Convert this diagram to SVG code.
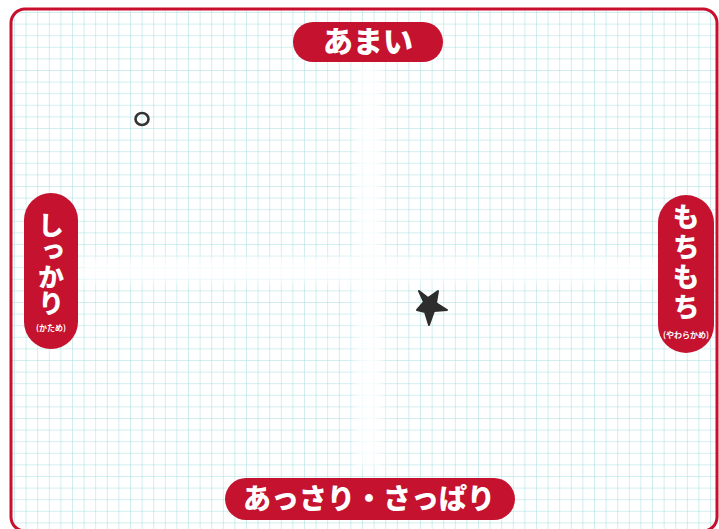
<svg xmlns="http://www.w3.org/2000/svg" width="719" height="529" viewBox="0 0 719 529">
<style>
.pill{fill:#c4122f}
.t{font-family:"Noto Sans CJK JP","Noto Sans",sans-serif;font-weight:900;fill:#fff;text-anchor:middle}
.v{font-family:"Noto Sans CJK JP","Noto Sans",sans-serif;font-weight:900;fill:#fff;writing-mode:vertical-rl;text-anchor:start}
.s{font-family:"Noto Sans CJK JP","Noto Sans",sans-serif;font-weight:700;fill:#fff;text-anchor:middle;font-size:8px}
</style>
<defs>
<pattern id="grid" x="14" y="12" width="11.6" height="11.6" patternUnits="userSpaceOnUse">
<path d="M0 0V11.6M0 0H11.6" fill="none" stroke="#a6dde2" stroke-width="1"/>
</pattern>
<filter id="blur" x="-20%" y="-20%" width="140%" height="140%"><feGaussianBlur stdDeviation="5"/></filter>
<clipPath id="inner"><rect x="11" y="9" width="706" height="520" rx="14"/></clipPath>
</defs>
<rect width="719" height="529" fill="#fff"/>
<g clip-path="url(#inner)">
<rect x="11" y="9" width="708" height="520" fill="url(#grid)"/>
<g filter="url(#blur)" fill="#fff" opacity="0.8">
<rect x="356" y="62" width="26" height="406"/>
<rect x="80" y="258" width="590" height="24"/>
</g>
</g>
<rect x="11" y="9" width="706" height="522" rx="14" fill="none" stroke="#c8102e" stroke-width="3"/>
<g id="top">
<rect class="pill" x="293" y="22" width="150" height="40" rx="20"/>
<text class="t" x="368" y="52" font-size="30">あまい</text>
</g>
<g id="bottom">
<rect class="pill" x="225" y="478" width="290" height="42" rx="21"/>
<text class="t" x="369" y="509" font-size="28">あっさり・さっぱり</text>
</g>
<g id="left">
<rect class="pill" x="24" y="193" width="54" height="156" rx="27"/>
<text class="v" x="51" y="212" font-size="26">しっかり</text>
<text class="s" x="51" y="331">(かため)</text>
</g>
<g id="right">
<rect class="pill" x="658" y="195" width="56" height="158" rx="28"/>
<text class="v" x="686" y="203" font-size="27" letter-spacing="3">もちもち</text>
<text class="s" x="686" y="338" font-size="7.5">(やわらかめ)</text>
</g>
<g id="circle-mark">
<ellipse cx="142" cy="119" rx="6.5" ry="6" fill="none" stroke="#333" stroke-width="2.6"/>
</g>
<g id="star-mark">
<path d="M419 291 L428 298 L438 291 L436 303 L447 310 L434 311 L429 325 L425 312 L417 310 L424 302 Z" fill="#2d2d2d" stroke="#2d2d2d" stroke-width="2" stroke-linejoin="round"/>
</g>
</svg>
